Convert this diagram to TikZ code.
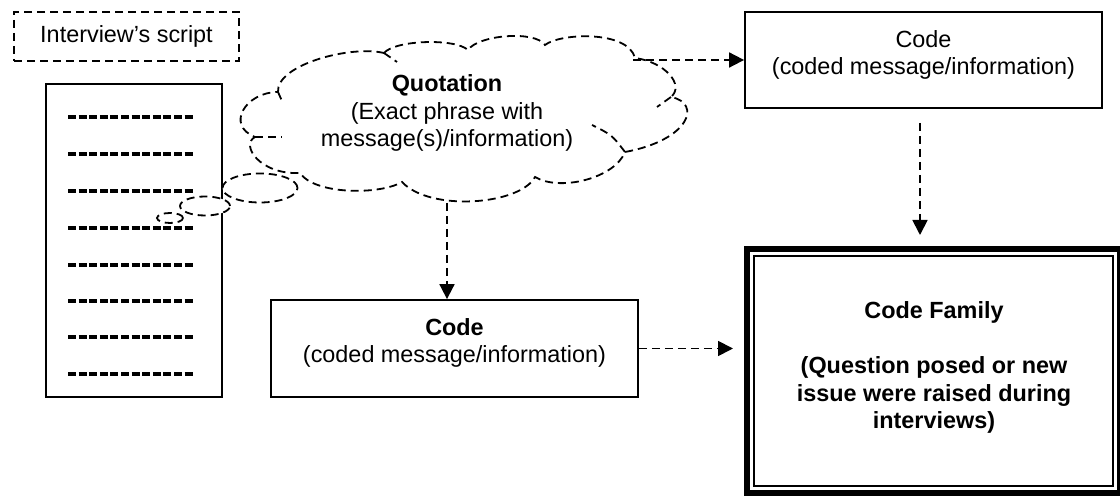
\documentclass[tikz,border=0pt]{standalone}
\usepackage{fontspec}
\setmainfont{Liberation Sans}
\usetikzlibrary{arrows.meta,shapes.geometric,calc}

\begin{document}
\begin{tikzpicture}[x=0.5pt,y=-0.5pt,
  font=\fontsize{11.7}{13.8}\selectfont,
  box/.style={draw, rectangle, line width=0.9pt, inner sep=0pt},
  txt/.style={align=center, inner sep=0pt},
  dashline/.style={line width=0.9pt, dash pattern=on 4pt off 2.5pt},
  conn/.style={dashline, -{Triangle[length=7.5pt,width=7.5pt]}},
  bubble/.style={ellipse, draw, fill=white, dashline, inner sep=0pt},
  scriptline/.style={line width=1.7pt, dash pattern=on 4pt off 1.3pt}]

\useasboundingbox (0,0) rectangle (1120,496);

% heading of the transcript
\node[box, dashline, minimum width=112.5pt, minimum height=24.5pt] (head) at (126.5,36.5) {Interview’s script};

% transcript page with its lines of text
\node[box, minimum width=88pt, minimum height=156.5pt] (page) at (134,240.5) {};
\foreach \yy in {117,154,191,228,265,301,337,374}
  \draw[scriptline] (68,\yy) -- (193,\yy);

% small thought bubbles leading to the quotation
\node[bubble, minimum width=37.5pt, minimum height=14.5pt] (b1) at (260,188) {};
\node[bubble, minimum width=25pt, minimum height=9.5pt] (b2) at (205,206) {};
\node[bubble, minimum width=13pt, minimum height=5pt] (b3) at (170,218) {};

% quotation cloud
\draw[dashline] (384,53) .. controls (395,40) and (455,38) .. (468,50)
  .. controls (478,35) and (535,30) .. (545,45)
  .. controls (560,33) and (628,30) .. (635,58)
  .. controls (665,62) and (685,85) .. (671,97)
  .. controls (702,103) and (690,140) .. (625,152)
  .. controls (615,178) and (560,192) .. (535,177)
  .. controls (520,205) and (430,212) .. (402,182)
  .. controls (380,195) and (315,195) .. (300,173)
  .. controls (260,175) and (240,145) .. (255,137)
  .. controls (225,125) and (246,92) .. (278,92)
  .. controls (276,65) and (350,45) .. (384,53);
% inner ends of the cloud puffs
\draw[dashline] (384,53) -- (397,62);
\draw[dashline] (671,97) -- (657,107);
\draw[dashline] (625,152) .. controls (612,135) .. (592,125);
\draw[dashline] (255,137) -- (282,137);
\draw[dashline] (278,92) -- (282,101);

\node[txt] (qtext) at (447,113) {\textbf{Quotation}\\(Exact phrase with\\message(s)/information)};
\coordinate (q-e) at (633,60);
\coordinate (q-s) at (447,203);

% codes
\node[box, minimum width=178.5pt, minimum height=48pt] (code1) at (923.5,60) {};
\node[txt] (code1t) at (923.5,55) {Code\\(coded message/information)};

\node[box, minimum width=183.5pt, minimum height=48.5pt] (code2) at (454.5,348.5) {};
\node[txt] (code2t) at (454.5,343) {\textbf{Code}\\(coded message/information)};

% code family with thick-thin frame
\node[draw, rectangle, line width=3.2pt, inner sep=0pt, outer sep=0pt,
      minimum width=186.25pt, minimum height=121.75pt] (fam) at (933.5,371) {};
\draw[line width=1pt] ($(fam.north west)+(7,7)$) rectangle ($(fam.south east)+(-7,-7)$);
\node[txt, font=\fontsize{11.7}{13.8}\selectfont\bfseries] (famt) at (934,367.5)
  {Code Family\\[13.8pt](Question posed or new\\issue were raised during\\interviews)};

% connectors
\draw[conn] (q-e) -- (code1.west);
\coordinate (c1s) at ($(code1.south)+(-3.5,14)$);
\draw[conn] (c1s) -- ($(c1s |- fam.north)+(0,-14.25)$);
\draw[conn] (q-s) -- (q-s |- code2.north);
\draw[conn] (code2.east) -- ($(code2.east -| fam.west)+(-14.25,0)$);
\end{tikzpicture}
\end{document}
